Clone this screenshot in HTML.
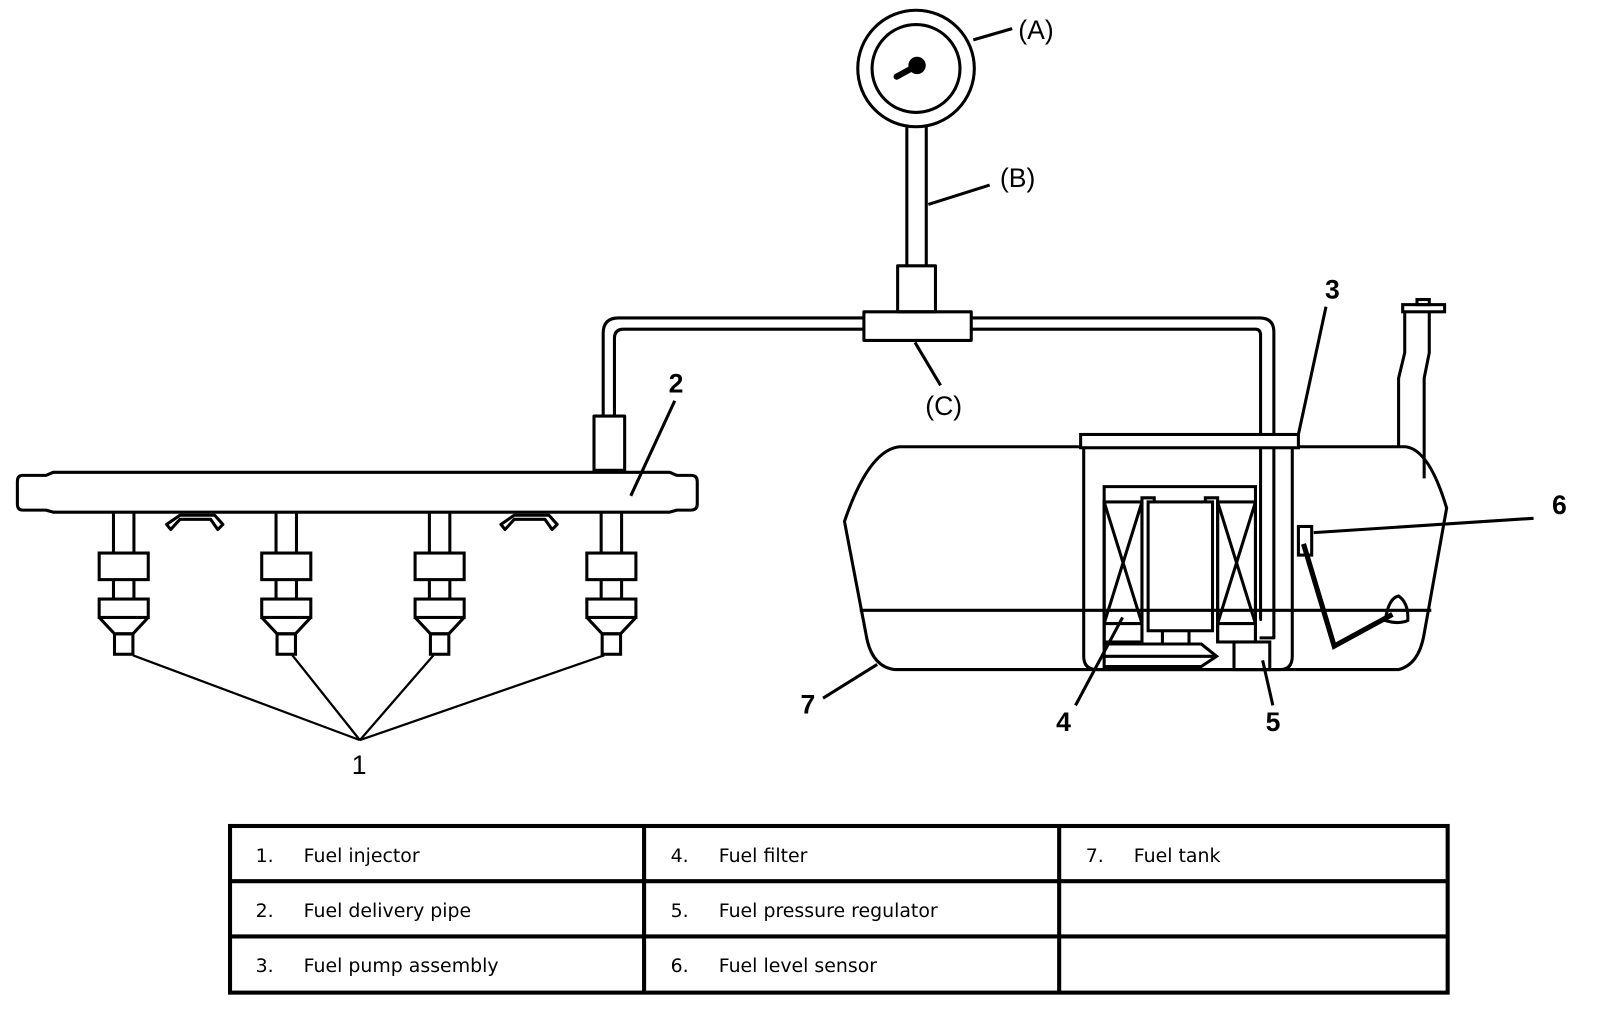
<!DOCTYPE html>
<html><head><meta charset="utf-8"><style>
html,body{margin:0;padding:0;background:#fff;}
svg{display:block;}
.l{font-family:"Liberation Sans",sans-serif;font-size:26px;}
.t{font-family:"DejaVu Sans","Liberation Sans",sans-serif;font-size:18.5px;}
</style></head><body>
<svg width="1600" height="1010" viewBox="0 0 1565 988" preserveAspectRatio="none" xmlns="http://www.w3.org/2000/svg">
<g fill="none" stroke="#000" stroke-width="3" stroke-linejoin="round">
<ellipse cx="896" cy="67" rx="57" ry="57"/>
<ellipse cx="896" cy="67" rx="43" ry="43"/>
<circle cx="897" cy="64" r="7" fill="#000"/>
<line x1="897" y1="64" x2="877" y2="75" stroke-width="6" stroke-linecap="round"/>
<line x1="952" y1="39" x2="990" y2="28"/>
<line x1="887" y1="122" x2="887" y2="260"/>
<line x1="906" y1="122" x2="906" y2="260"/>
<line x1="908" y1="200" x2="968" y2="181"/>
<rect x="878" y="260" width="37" height="45"/>
<rect x="845" y="305" width="105" height="28"/>
<line x1="895" y1="335" x2="920" y2="377"/>
<path d="M845 311 H605 Q590 311 590 326 V407"/>
<path d="M845 322 H610 Q601 322 601 331 V407"/>
<rect x="581" y="407" width="30" height="53"/>
<path d="M950 311 H1232 Q1246 311 1246 325 V624 H1232"/>
<path d="M950 322 H1228 Q1233 322 1233 328 V606 H1232"/>
<path d="M52 462 H655 L662 465 H676 Q682 465 682 471 V493 Q682 499 676 499 H662 L655 501 H52 L45 499 H22 Q17 499 17 493 V471 Q17 465 22 465 H45 Z"/>
<line x1="660" y1="392" x2="617" y2="485"/>
<path d="M167 518 L176 508 H206 L213 518 L218 513 L210 504 H176 L163 513 Z"/>
<path d="M494 518 L503 508 H533 L540 518 L545 513 L537 504 H503 L490 513 Z"/>
</g>
<g fill="none" stroke="#000" stroke-width="3">
<g transform="translate(121,0)">
<line x1="-10" y1="501" x2="-10" y2="541"/><line x1="10" y1="501" x2="10" y2="541"/>
<rect x="-24" y="541" width="48" height="26"/>
<line x1="-10" y1="567" x2="-10" y2="586"/><line x1="10" y1="567" x2="10" y2="586"/>
<rect x="-24" y="586" width="48" height="18"/>
<path d="M-24 604 L-9 620 H9 L24 604"/>
<rect x="-9" y="620" width="18" height="20"/>
</g>
<g transform="translate(280,0)">
<line x1="-10" y1="501" x2="-10" y2="541"/><line x1="10" y1="501" x2="10" y2="541"/>
<rect x="-24" y="541" width="48" height="26"/>
<line x1="-10" y1="567" x2="-10" y2="586"/><line x1="10" y1="567" x2="10" y2="586"/>
<rect x="-24" y="586" width="48" height="18"/>
<path d="M-24 604 L-9 620 H9 L24 604"/>
<rect x="-9" y="620" width="18" height="20"/>
</g>
<g transform="translate(430,0)">
<line x1="-10" y1="501" x2="-10" y2="541"/><line x1="10" y1="501" x2="10" y2="541"/>
<rect x="-24" y="541" width="48" height="26"/>
<line x1="-10" y1="567" x2="-10" y2="586"/><line x1="10" y1="567" x2="10" y2="586"/>
<rect x="-24" y="586" width="48" height="18"/>
<path d="M-24 604 L-9 620 H9 L24 604"/>
<rect x="-9" y="620" width="18" height="20"/>
</g>
<g transform="translate(598,0)">
<line x1="-10" y1="501" x2="-10" y2="541"/><line x1="10" y1="501" x2="10" y2="541"/>
<rect x="-24" y="541" width="48" height="26"/>
<line x1="-10" y1="567" x2="-10" y2="586"/><line x1="10" y1="567" x2="10" y2="586"/>
<rect x="-24" y="586" width="48" height="18"/>
<path d="M-24 604 L-9 620 H9 L24 604"/>
<rect x="-9" y="620" width="18" height="20"/>
</g>
<g stroke-width="2.2">
<line x1="130" y1="641" x2="352" y2="724"/>
<line x1="286" y1="641" x2="352" y2="724"/>
<line x1="424" y1="641" x2="352" y2="724"/>
<line x1="591" y1="641" x2="352" y2="724"/>
</g>
<path d="M880 437 H1375 Q1398 440 1415 497 L1393 620 Q1388 650 1368 655 H875 Q852 652 847 620 L826 510 Q850 440 880 437 Z"/>
<line x1="841" y1="597" x2="1400" y2="597"/>
<path d="M1368 437 V370 L1374 345 V304 M1393 468 V370 L1398 345 V304"/>
<rect x="1372" y="298" width="41" height="7"/>
<rect x="1386" y="293" width="12" height="5"/>
<line x1="858" y1="650" x2="805" y2="683"/>
<rect x="1057" y="425" width="213" height="13" fill="#fff"/>
<path d="M1060 438 V642 Q1060 655 1073 655 H1252 Q1264 655 1264 642 V438"/>
<path d="M1080 632 V476 H1228 V628"/>
<rect x="1080" y="491" width="37" height="137"/>
<line x1="1080" y1="491" x2="1117" y2="610"/><line x1="1117" y1="491" x2="1080" y2="610"/>
<line x1="1080" y1="610" x2="1117" y2="610"/>
<rect x="1191" y="491" width="37" height="137"/>
<line x1="1191" y1="491" x2="1228" y2="610"/><line x1="1228" y1="491" x2="1191" y2="610"/>
<line x1="1191" y1="610" x2="1228" y2="610"/>
<path d="M1117 628 V487 H1129 V491"/><path d="M1191 628 V487 H1179 V491"/>
<rect x="1123" y="491" width="63" height="126"/>
<path d="M1137 617 V630 M1163 617 V630 M1080 630 H1175 L1190 642 L1175 652 H1080 Z M1080 642 H1190"/>
<rect x="1207" y="628" width="35" height="27"/>
<line x1="1098" y1="604" x2="1052" y2="690"/>
<line x1="1235" y1="646" x2="1245" y2="690"/>
<line x1="1297" y1="300" x2="1270" y2="425"/>
<rect x="1270" y="515" width="13" height="28"/>
<line x1="1285" y1="521" x2="1500" y2="507"/>
<path d="M1275 532 L1305 632 L1362 601" stroke-width="5"/>
<path d="M1355 607 Q1358 585 1368 583 Q1378 590 1377 607 Q1368 611 1355 607 Z"/>
</g>
<g class="l" fill="#000">
<text x="996" y="38">(A)</text>
<text x="978" y="183">(B)</text>
<text x="905" y="406">(C)</text>
<text x="654" y="384" font-weight="bold">2</text>
<text x="344" y="757">1</text>
<text x="1296" y="292" font-weight="bold">3</text>
<text x="1033" y="715" font-weight="bold">4</text>
<text x="1238" y="715" font-weight="bold">5</text>
<text x="1518" y="503" font-weight="bold">6</text>
<text x="783" y="698" font-weight="bold">7</text>
</g>
<g fill="none" stroke="#000" stroke-width="4">
<rect x="225" y="808" width="1191" height="163"/>
<line x1="225" y1="862" x2="1416" y2="862"/>
<line x1="225" y1="916" x2="1416" y2="916"/>
<line x1="630" y1="808" x2="630" y2="971"/>
<line x1="1036" y1="808" x2="1036" y2="971"/>
</g>
<g class="t" fill="#000">
<text x="250" y="843">1.</text><text x="297" y="843">Fuel injector</text>
<text x="250" y="897">2.</text><text x="297" y="897">Fuel delivery pipe</text>
<text x="250" y="951">3.</text><text x="297" y="951">Fuel pump assembly</text>
<text x="656" y="843">4.</text><text x="703" y="843">Fuel filter</text>
<text x="656" y="897">5.</text><text x="703" y="897">Fuel pressure regulator</text>
<text x="656" y="951">6.</text><text x="703" y="951">Fuel level sensor</text>
<text x="1062" y="843">7.</text><text x="1109" y="843">Fuel tank</text>
</g>
</svg>
</body></html>
